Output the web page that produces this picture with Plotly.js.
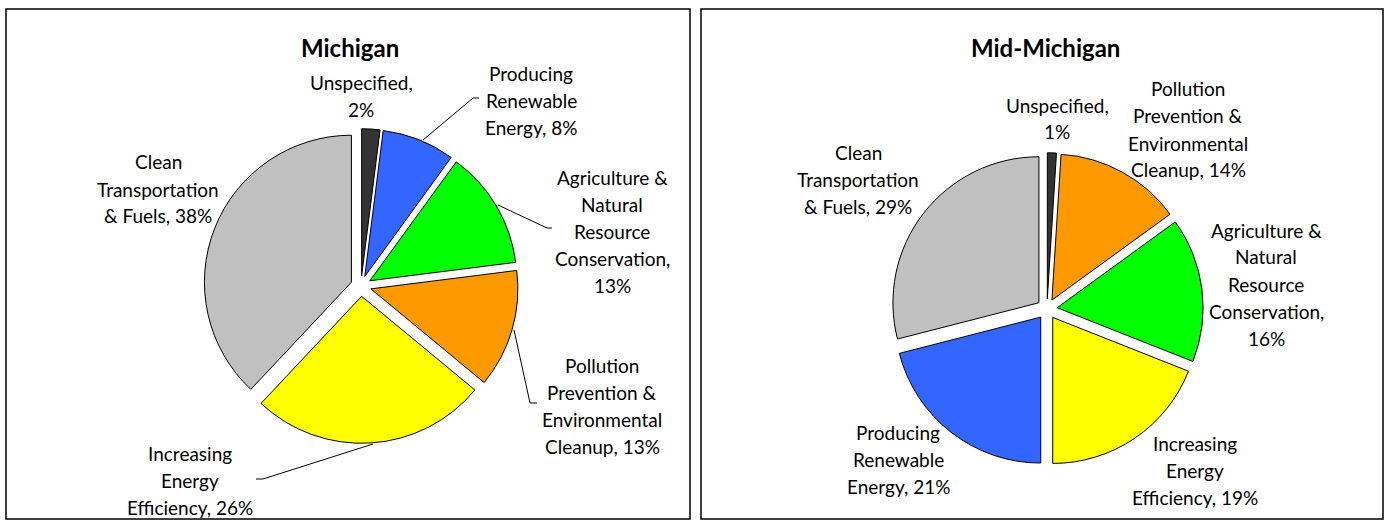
<!DOCTYPE html>
<html>
<head>
<meta charset="utf-8">
<script src="https://cdn.plot.ly/plotly-3.0.1.min.js"></script>
<style>
  html, body { margin: 0; padding: 0; background: #ffffff; }
  #chart { width: 1388px; height: 521px; }
</style>
</head>
<body>
<div id="chart"></div>
<script>
// ---------------- DATA ----------------
var miCategories = [
  "Unspecified",
  "Producing Renewable Energy",
  "Agriculture & Natural Resource Conservation",
  "Pollution Prevention & Environmental Cleanup",
  "Increasing Energy Efficiency",
  "Clean Transportation & Fuels"
];
var miValues = [2, 8, 13, 13, 26, 38];

var midCategories = [
  "Unspecified",
  "Pollution Prevention & Environmental Cleanup",
  "Agriculture & Natural Resource Conservation",
  "Increasing Energy Efficiency",
  "Producing Renewable Energy",
  "Clean Transportation & Fuels"
];
var midValues = [1, 14, 16, 19, 21, 29];

var chartTitles = ["Michigan", "Mid-Michigan"];

// ---------------- STYLE / LAYOUT ----------------
var W = 1388, H = 521;
var categoryColors = {
  "Unspecified": "#333333",
  "Producing Renewable Energy": "#3366FF",
  "Agriculture & Natural Resource Conservation": "#00FF00",
  "Pollution Prevention & Environmental Cleanup": "#FF9900",
  "Increasing Energy Efficiency": "#FFFF00",
  "Clean Transportation & Fuels": "#C0C0C0"
};
// words per line for each category label
var wrapPattern = {
  "Unspecified": [1, 1],
  "Producing Renewable Energy": [1, 1, 2],
  "Agriculture & Natural Resource Conservation": [2, 1, 1, 1, 1],
  "Pollution Prevention & Environmental Cleanup": [1, 2, 1, 2],
  "Increasing Energy Efficiency": [1, 1, 2],
  "Clean Transportation & Fuels": [1, 1, 3]
};
var FONT = "Lato, 'Liberation Sans', sans-serif";
var LABEL_SIZE = 19;
var LINE_GAP = 27;
var PULL = 0.07;

function px(x) { return x / W; }
function py(y) { return 1 - y / H; }
function domainFor(cx, cy, r, pull) {
  var half = r * (1 + pull);
  return { x: [px(cx - half), px(cx + half)], y: [py(cy + half), py(cy - half)] };
}
function wrapLabel(cat, val) {
  var words = (cat + ", " + val + "%").split(" ");
  var pat = wrapPattern[cat], lines = [], k = 0;
  pat.forEach(function (n) { lines.push(words.slice(k, k + n).join(" ")); k += n; });
  return lines;
}

// label anchor positions (center x, first-line y) in pixels
var miLabelPos = [[361, 83], [531, 73], [612, 177], [602, 365], [190, 453], [158, 162]];
var midLabelPos = [[1057, 105], [1188, 89], [1266, 230], [1195, 443], [898, 432], [858, 152]];

// leader lines (left chart) in pixels
var miLeaders = [
  [[423, 140], [473, 98], [479, 98]],
  [[498, 205], [547, 228], [552, 228]],
  [[514, 330], [530, 403], [537, 403]],
  [[373, 444], [263, 479], [256, 479]]
];

var annotations = [];
function addLabels(cats, vals, pos) {
  cats.forEach(function (c, i) {
    var lines = wrapLabel(c, vals[i]);
    lines.forEach(function (t, j) {
      annotations.push({
        text: t, xref: "paper", yref: "paper",
        x: px(pos[i][0]), y: py(pos[i][1] + j * LINE_GAP),
        xanchor: "center", yanchor: "middle", showarrow: false,
        font: { family: FONT, size: LABEL_SIZE, color: "#000000" }
      });
    });
  });
}
addLabels(miCategories, miValues, miLabelPos);
addLabels(midCategories, midValues, midLabelPos);

var titlePos = [[350, 47], [1045, 47]];
chartTitles.forEach(function (t, i) {
  annotations.push({
    text: "<b>" + t + "</b>", xref: "paper", yref: "paper",
    x: px(titlePos[i][0]), y: py(titlePos[i][1]),
    xanchor: "center", yanchor: "middle", showarrow: false,
    font: { family: FONT, size: 24, color: "#000000" }
  });
});

var shapes = [
  { type: "rect", xref: "paper", yref: "paper", x0: px(6), x1: px(690), y0: py(519), y1: py(9),
    line: { color: "#000000", width: 1.5 } },
  { type: "rect", xref: "paper", yref: "paper", x0: px(701), x1: px(1383), y0: py(519), y1: py(9),
    line: { color: "#000000", width: 1.5 } }
];
miLeaders.forEach(function (pts) {
  var d = pts.map(function (p, k) { return (k ? "L" : "M") + px(p[0]) + "," + py(p[1]); }).join(" ");
  shapes.push({ type: "path", xref: "paper", yref: "paper", path: d, line: { color: "#000000", width: 1 } });
});

var traces = [
  {
    type: "pie", labels: miCategories, values: miValues, sort: false,
    direction: "clockwise", rotation: 0, pull: PULL, textinfo: "none",
    hoverinfo: "label+percent", showlegend: false,
    domain: domainFor(361, 286, 147, PULL),
    marker: { colors: miCategories.map(function (c) { return categoryColors[c]; }),
              line: { color: "#000000", width: 1 } }
  },
  {
    type: "pie", labels: midCategories, values: midValues, sort: false,
    direction: "clockwise", rotation: 0, pull: PULL, textinfo: "none",
    hoverinfo: "label+percent", showlegend: false,
    domain: domainFor(1047, 309, 146, PULL),
    marker: { colors: midCategories.map(function (c) { return categoryColors[c]; }),
              line: { color: "#000000", width: 1 } }
  }
];

var layout = {
  width: W, height: H,
  margin: { l: 0, r: 0, t: 0, b: 0 },
  paper_bgcolor: "#ffffff",
  plot_bgcolor: "#ffffff",
  showlegend: false,
  annotations: annotations,
  shapes: shapes,
  font: { family: FONT }
};

Plotly.newPlot("chart", traces, layout, { displayModeBar: false, staticPlot: true });
</script>
</body>
</html>
